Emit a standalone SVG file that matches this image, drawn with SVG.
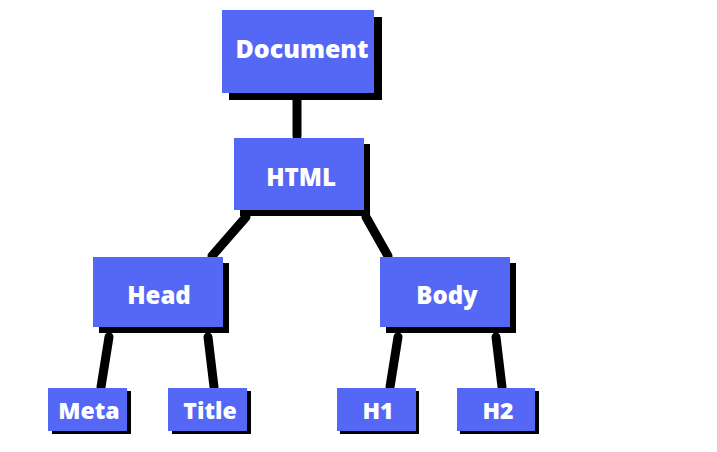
<svg xmlns="http://www.w3.org/2000/svg" width="717" height="452" viewBox="0 0 717 452">
<style>
.box{fill:#5468f5}
.sh{fill:#000}
.t{font-family:"Open Sans",sans-serif;font-weight:800;fill:#fff;text-anchor:middle}
.c line{stroke:#000;stroke-width:9;stroke-linecap:round}
</style>
<rect width="717" height="452" fill="#fff"/>
<g class="c" id="connectors">
<line x1="297" y1="100" x2="297" y2="136"/>
<line x1="246" y1="217" x2="212" y2="256"/>
<line x1="366" y1="217" x2="388" y2="256"/>
<line x1="109" y1="337" x2="101" y2="387"/>
<line x1="208" y1="337" x2="214" y2="387"/>
<line x1="398" y1="337" x2="390" y2="387"/>
<line x1="496" y1="337" x2="502" y2="387"/>
</g>
<g id="document"><rect class="sh" x="229" y="17" width="153" height="83"/><rect class="box" x="222" y="10" width="152" height="83"/><text class="t" x="302" y="58" font-size="25">Document</text></g>
<g id="html"><rect class="sh" x="240" y="144" width="130" height="72"/><rect class="box" x="234" y="138" width="130" height="72"/><text class="t" x="301" y="186" font-size="24">HTML</text></g>
<g id="head"><rect class="sh" x="99" y="263" width="130" height="70"/><rect class="box" x="93" y="257" width="130" height="70"/><text class="t" x="159" y="304" font-size="24">Head</text></g>
<g id="body"><rect class="sh" x="386" y="263" width="130" height="70"/><rect class="box" x="380" y="257" width="130" height="70"/><text class="t" x="447" y="304" font-size="24">Body</text></g>
<g id="meta"><rect class="sh" x="52" y="391" width="79" height="43"/><rect class="box" x="48" y="388" width="79" height="43"/><text class="t" x="89" y="419" font-size="23">Meta</text></g>
<g id="title"><rect class="sh" x="172" y="391" width="79" height="43"/><rect class="box" x="168" y="388" width="79" height="43"/><text class="t" x="210" y="419" font-size="23">Title</text></g>
<g id="h1"><rect class="sh" x="340" y="391" width="79" height="43"/><rect class="box" x="337" y="388" width="79" height="43"/><text class="t" x="378" y="419" font-size="23">H1</text></g>
<g id="h2"><rect class="sh" x="460" y="391" width="79" height="43"/><rect class="box" x="457" y="388" width="78" height="43"/><text class="t" x="498" y="419" font-size="23">H2</text></g>
</svg>
